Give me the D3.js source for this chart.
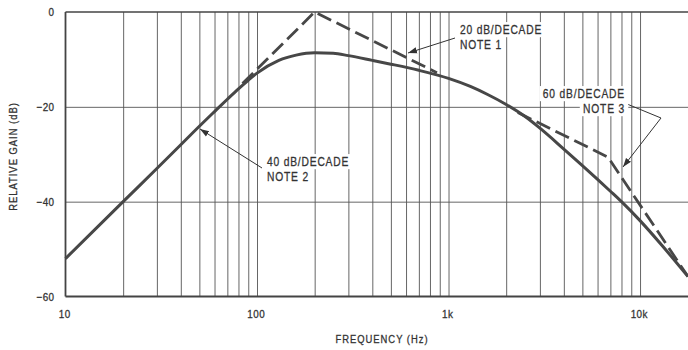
<!DOCTYPE html>
<html>
<head>
<meta charset="utf-8">
<script src="https://cdn.jsdelivr.net/npm/d3@7"></script>
<style>
  html, body { margin: 0; padding: 0; background: #fff; }
  svg { display: block; }
  text { font-family: "Liberation Sans", Arial, sans-serif; fill: #333; stroke: #333; stroke-width: 0.3; }
</style>
</head>
<body>
<div id="chart"></div>
<script>
// measured response (frequency in Hz, gain in dB)
const freqs = [10, 20, 30, 40, 50, 60, 70, 80, 90, 100, 130, 160, 200, 250, 300, 400, 500, 700,
  1000, 1300, 1600, 2000, 2500, 3000, 4000, 5000, 6000, 7000, 8000, 10000, 13000, 17800]
const gains = [-52, -40, -33, -28.0, -24.1, -21.0, -18.4, -16.2, -14.4, -12.9, -10.2, -9.1, -8.6, -8.7,
  -9.2, -10.2, -11.0, -12.3, -14.0, -15.7, -17.4, -19.5, -22.0, -24.5, -28.9, -32.4, -35.3, -37.8,
  -40.0, -44.0, -49.2, -55.8]

// straight-line asymptotes (dashed)
const asym1Freqs = [84, 200, 870]
const asym1Gains = [-15.1, 0, -12.8]
const asym2Freqs = [2300, 6800, 17800]
const asym2Gains = [-21.2, -30.6, -55.8]

const xTickValues = [10, 100, 1000, 10000]
const xTickLabels = ['10', '100', '1k', '10k']
const yTickValues = [0, -20, -40, -60]
const yTickLabels = ['0', '\u221220', '\u221240', '\u221260']

// minor grid: 2..9 per decade, up to 10k
const gridFreqs = []
for (const dec of [10, 100, 1000]) {
  for (let m = 2; m <= 10; m++) gridFreqs.push(dec * m)
}

const W = 688
const H = 350
const plotLeft = 65.5
const plotRight = 688
const plotTop = 12
const plotBottom = 296.5
// the original lettering is a condensed face; squeeze Liberation Sans to match
const SQUEEZE = 0.82

const x = d3.scaleLog().domain([10, 17800]).range([plotLeft, plotRight])
const y = d3.scaleLinear().domain([-60, 0]).range([plotBottom, plotTop])

const svg = d3.select('#chart').append('svg').attr('width', W).attr('height', H)

// places a condensed text label, returns the text selection
function label(parent, str, tx, ty, opts = {}) {
  const g = parent.append('g')
    .attr('transform', `translate(${tx},${ty})${opts.rotate ? ` rotate(${opts.rotate})` : ''} scale(${SQUEEZE},1)`)
  return g.append('text')
    .attr('text-anchor', opts.anchor || 'start')
    .attr('font-size', opts.size || 12.5)
    .attr('letter-spacing', opts.spacing ?? 1)
    .text(str)
}

// vertical grid lines
svg.append('g')
  .attr('transform', `translate(0,${plotBottom})`)
  .call(d3.axisBottom(x).tickValues(gridFreqs).tickSize(-(plotBottom - plotTop)).tickFormat(''))
  .call((g) => g.select('.domain').remove())
  .call((g) => g.selectAll('.tick line').attr('stroke', '#555').attr('stroke-width', 0.9))

// horizontal grid lines
svg.append('g')
  .attr('transform', `translate(${plotLeft},0)`)
  .call(d3.axisLeft(y).tickValues([-20, -40]).tickSize(-(plotRight - plotLeft)).tickFormat(''))
  .call((g) => g.select('.domain').remove())
  .call((g) => g.selectAll('.tick line').attr('stroke', '#555').attr('stroke-width', 0.9))

// frame: top, bottom, left
const frame = svg.append('g').attr('stroke', '#444').attr('fill', 'none')
frame.append('line').attr('x1', plotLeft).attr('x2', plotRight).attr('y1', y(0)).attr('y2', y(0)).attr('stroke-width', 1.5)
frame.append('line').attr('x1', plotLeft).attr('x2', plotRight).attr('y1', y(-60)).attr('y2', y(-60)).attr('stroke-width', 1.8)
frame.append('line').attr('x1', plotLeft).attr('x2', plotLeft).attr('y1', y(0)).attr('y2', y(-60)).attr('stroke-width', 1.8)

// tick labels
svg.append('g')
  .attr('transform', `translate(0,${plotBottom + 10})`)
  .call(d3.axisBottom(x).tickValues(xTickValues).tickSize(0).tickFormat((d, i) => xTickLabels[i]))
  .call((g) => g.select('.domain').remove())
  .call((g) => g.selectAll('text')
    .attr('font-size', 11.5).attr('dx', -1.5).attr('fill', '#333').attr('letter-spacing', 0.5)
    .attr('transform', `scale(${SQUEEZE + 0.04},1)`)
    .style('font-family', '"Liberation Sans", Arial, sans-serif'))

svg.append('g')
  .attr('transform', `translate(${plotLeft - 11},0)`)
  .call(d3.axisLeft(y).tickValues(yTickValues).tickSize(0).tickFormat((d, i) => yTickLabels[i]))
  .call((g) => g.select('.domain').remove())
  .call((g) => g.selectAll('text')
    .attr('font-size', 11.5).attr('fill', '#333').attr('x', 0).attr('letter-spacing', 0.5)
    .attr('transform', `scale(${SQUEEZE + 0.04},1)`)
    .style('font-family', '"Liberation Sans", Arial, sans-serif'))

// axis titles
label(svg, 'FREQUENCY (Hz)', 382, 343, { anchor: 'middle', size: 11.5, spacing: 1.2 })
label(svg, 'RELATIVE GAIN (dB)', 17, 156.5, { anchor: 'middle', size: 11.5, spacing: 1.2, rotate: -90 })

// curves
const line = d3.line().x((d) => x(d[0])).y((d) => y(d[1]))
const smooth = d3.line().x((d) => x(d[0])).y((d) => y(d[1])).curve(d3.curveMonotoneX)

svg.append('path')
  .datum(freqs.map((f, i) => [f, gains[i]]))
  .attr('d', smooth)
  .attr('fill', 'none')
  .attr('stroke', '#474747')
  .attr('stroke-width', 3)

for (const [fs, gs] of [[asym1Freqs, asym1Gains], [asym2Freqs, asym2Gains]]) {
  svg.append('path')
    .datum(fs.map((f, i) => [f, gs[i]]))
    .attr('d', line)
    .attr('fill', 'none')
    .attr('stroke', '#474747')
    .attr('stroke-width', 2.8)
    .attr('stroke-dasharray', '15,6')
}

// annotations
svg.append('defs').append('marker')
  .attr('id', 'arrow')
  .attr('viewBox', '0 0 10 10')
  .attr('refX', 10).attr('refY', 5)
  .attr('markerWidth', 9).attr('markerHeight', 9)
  .attr('markerUnits', 'userSpaceOnUse')
  .attr('orient', 'auto')
  .append('path').attr('d', 'M0,1.5 L10,5 L0,8.5 Z').attr('fill', '#333')

const notes = [
  { lines: ['20 dB/DECADE', 'NOTE 1'], x: 460, y: 34, anchor: 'start', leader: [[455, 38], [408, 53]] },
  { lines: ['40 dB/DECADE', 'NOTE 2'], x: 267, y: 166, anchor: 'start', leader: [[262, 168], [200, 129]] },
  { lines: ['60 dB/DECADE', 'NOTE 3'], x: 625, y: 98, anchor: 'end', leader: [[627, 104], [661, 118], [623, 167]] },
]

const noteG = svg.append('g')
for (const n of notes) {
  noteG.append('path')
    .attr('d', d3.line()(n.leader))
    .attr('fill', 'none')
    .attr('stroke', '#333')
    .attr('stroke-width', 1)
    .attr('marker-end', 'url(#arrow)')
  n.lines.forEach((t, i) => {
    const txt = label(noteG, t, n.x, n.y + i * 15, { anchor: n.anchor, size: 12.5, spacing: 1 })
    const bb = txt.node().getBBox()
    d3.select(txt.node().parentNode).insert('rect', 'text')
      .attr('x', bb.x - 4).attr('y', bb.y - 1)
      .attr('width', bb.width + 8).attr('height', bb.height + 2)
      .attr('fill', '#fff')
      .attr('stroke', 'none')
  })
}
</script>
</body>
</html>
